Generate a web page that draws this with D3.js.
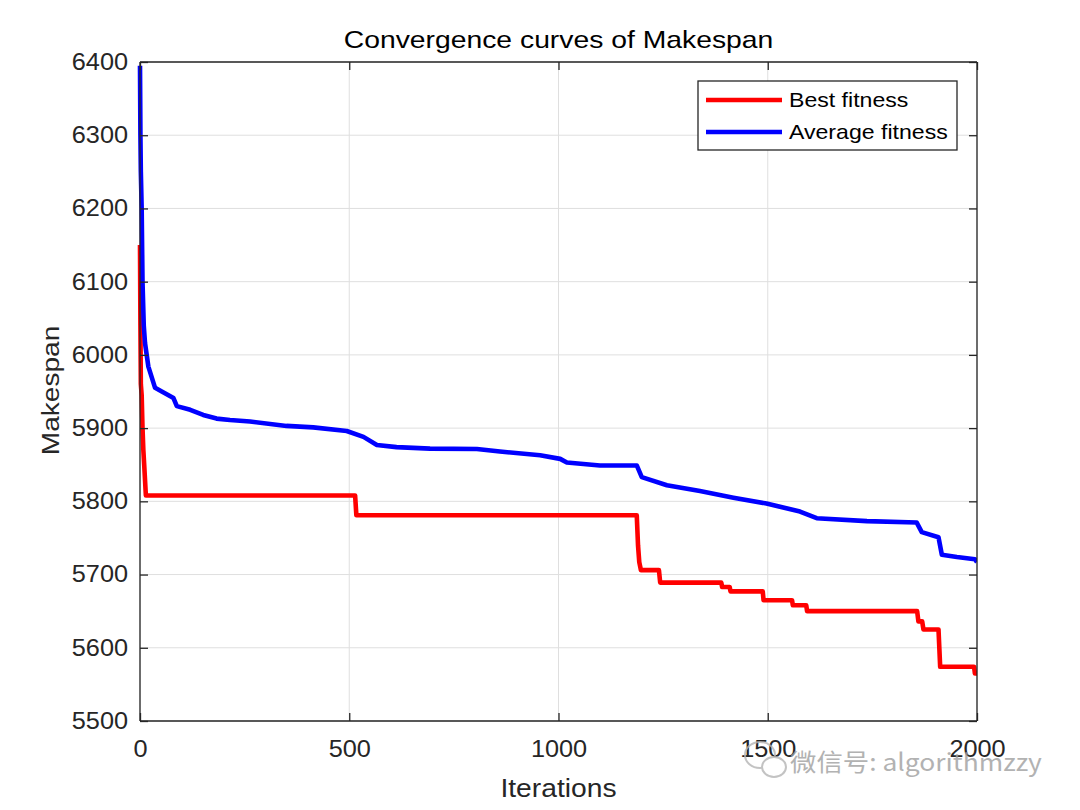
<!DOCTYPE html>
<html><head><meta charset="utf-8">
<script src="https://cdn.jsdelivr.net/npm/d3@7/dist/d3.min.js"></script>
<style>
html,body{margin:0;padding:0;background:#fff;}
svg text{font-family:"Liberation Sans",Arial,Helvetica,sans-serif;}
</style></head>
<body>
<svg id="chart" width="1080" height="810"></svg>
<script>
const title = "Convergence curves of Makespan";
const xLabel = "Iterations";
const yLabel = "Makespan";
const seriesNames = ["Best fitness", "Average fitness"];
const seriesColors = ["#ff0000", "#0000ff"];
const xTicks = [0, 500, 1000, 1500, 2000];
const yTicks = [5500, 5600, 5700, 5800, 5900, 6000, 6100, 6200, 6300, 6400];

const bestIter = [0,1,2,4,6,8,10,14,514,517,1187,1190,1193,1197,1240,1243,1389,1391,1409,1411,1488,1490,1558,1560,1592,1594,1857,1860,1869,1872,1908,1912,1993,1995,2000];
const bestVal  = [6150,6040,5960,5945,5900,5870,5850,5808,5808,5781,5781,5740,5717,5706,5706,5689,5689,5683,5683,5677,5677,5665,5665,5658,5658,5650,5650,5636,5636,5625,5625,5574,5574,5565,5565];

const avgIter = [0,1,2,4,6,9,12,20,36,52,80,88,120,151,183,215,263,350,414,494,534,566,613,693,805,860,956,1004,1020,1099,1187,1199,1259,1338,1418,1497,1577,1617,1737,1856,1868,1908,1916,1952,1995,2000];
const avgVal  = [6395,6300,6250,6200,6100,6040,6016,5984,5955,5950,5941,5930,5925,5918,5913,5911,5909,5903,5901,5896,5888,5877,5874,5872,5871.5,5868,5863,5858,5853,5849,5849,5833,5822,5814,5805,5797,5786,5777,5773,5771,5758,5751,5727,5724,5721,5717];

const svg = d3.select("#chart");
const L = 140, R = 977, T = 62, B = 721;
const x = d3.scaleLinear().domain([0, 2000]).range([L, R]);
const y = d3.scaleLinear().domain([5500, 6400]).range([B, T]);
const axisColor = "#262626";

// text helper: place text at (px,py) stretched along its baseline
function stretchText(sel, px, py, k, rot) {
  sel.attr("x", 0).attr("y", 0)
     .attr("transform", `translate(${px},${py})` + (rot ? ` rotate(${rot})` : "") + ` scale(${k},1)`);
  return sel;
}

// grid
const g = svg.append("g");
g.selectAll(".gx").data(xTicks).enter().append("line")
  .attr("x1", d => x(d)).attr("x2", d => x(d)).attr("y1", T).attr("y2", B)
  .attr("stroke", "#dfdfdf").attr("stroke-width", 1);
g.selectAll(".gy").data(yTicks).enter().append("line")
  .attr("y1", d => y(d)).attr("y2", d => y(d)).attr("x1", L).attr("x2", R)
  .attr("stroke", "#dfdfdf").attr("stroke-width", 1);

// lines
const series = [
  {name: seriesNames[0], color: seriesColors[0], pts: bestIter.map((d,i)=>[d,bestVal[i]])},
  {name: seriesNames[1], color: seriesColors[1], pts: avgIter.map((d,i)=>[d,avgVal[i]])}
];
const line = d3.line().x(d => x(d[0])).y(d => y(d[1]));
svg.append("clipPath").attr("id","clip").append("rect")
  .attr("x", L-3).attr("y", T).attr("width", R-L+3).attr("height", B-T);
series.forEach(s => {
  svg.append("path").datum(s.pts).attr("d", line)
    .attr("fill","none").attr("stroke", s.color).attr("stroke-width", 4.6)
    .attr("stroke-linejoin","round").attr("clip-path","url(#clip)");
});

// axes (inward ticks, box)
const tickLen = 8;
const ax = svg.append("g").attr("transform", `translate(0,${B})`)
  .call(d3.axisBottom(x).tickValues(xTicks).tickSize(-tickLen).tickPadding(20).tickFormat(d3.format("d")));
const axT = svg.append("g").attr("transform", `translate(0,${T})`)
  .call(d3.axisTop(x).tickValues(xTicks).tickSize(-tickLen).tickFormat(""));
const ay = svg.append("g").attr("transform", `translate(${L},0)`)
  .call(d3.axisLeft(y).tickValues(yTicks).tickSize(-tickLen).tickPadding(12).tickFormat(d3.format("d")));
const ayR = svg.append("g").attr("transform", `translate(${R},0)`)
  .call(d3.axisRight(y).tickValues(yTicks).tickSize(-tickLen).tickFormat(""));
[ax, axT, ay, ayR].forEach(a => {
  a.select(".domain").attr("stroke", axisColor).attr("stroke-width", 1.3);
  a.selectAll(".tick line").attr("stroke", axisColor).attr("stroke-width", 1.3);
  a.selectAll(".tick text").attr("fill", axisColor).style("font-size", "23px");
});
[ax, axT].forEach(a => a.select(".domain").attr("d", `M${L},0H${R}`));
[ay, ayR].forEach(a => a.select(".domain").attr("d", `M0,${T}V${B}`));
// stretch tick labels horizontally about their anchors
ax.selectAll(".tick text").each(function() {
  const t = d3.select(this); const yy = +t.attr("y");
  t.attr("transform", `translate(0,${yy}) scale(1.1,1) translate(0,${-yy})`);
});
ay.selectAll(".tick text").each(function() {
  const t = d3.select(this); const xx = +t.attr("x");
  t.attr("transform", `translate(${xx},0) scale(1.1,1) translate(${-xx},0)`);
});

// title & labels
stretchText(svg.append("text").attr("text-anchor","middle").attr("fill","#000")
  .style("font-size","24px").text(title), (L+R)/2, 48, 1.18);
stretchText(svg.append("text").attr("text-anchor","middle").attr("fill",axisColor)
  .style("font-size","25px").text(xLabel), (L+R)/2, 797, 1.13);
stretchText(svg.append("text").attr("text-anchor","middle").attr("fill",axisColor)
  .style("font-size","24px").text(yLabel), 59, (T+B)/2 - 1, 1.17, -90);

// legend
const lg = svg.append("g");
lg.append("rect").attr("x", 698).attr("y", 81).attr("width", 259).attr("height", 69)
  .attr("fill","#fff").attr("stroke", axisColor).attr("stroke-width", 1.3);
series.forEach((s, i) => {
  const yy = 100 + i*32;
  lg.append("line").attr("x1", 706).attr("x2", 782).attr("y1", yy).attr("y2", yy)
    .attr("stroke", s.color).attr("stroke-width", 4.6);
  stretchText(lg.append("text").attr("fill","#000").style("font-size","20px").text(s.name),
    789, yy + 7, 1.155);
});

// watermark
const wm = svg.append("g").attr("opacity", 0.8);
wm.append("ellipse").attr("cx", 760).attr("cy", 755).attr("rx", 15).attr("ry", 13)
  .attr("fill","none").attr("stroke","#b5b5b5").attr("stroke-width",2);
wm.append("ellipse").attr("cx", 774).attr("cy", 767).attr("rx", 12).attr("ry", 10)
  .attr("fill","#fff").attr("stroke","#b5b5b5").attr("stroke-width",2);
stretchText(wm.append("text").attr("fill","#a0a0a0")
  .style("font-size","24px").style("font-family","'Noto Sans CJK SC','Liberation Sans',sans-serif")
  .text("微信号: algorithmzzy"), 790, 771, 1.1);
</script>
</body></html>
